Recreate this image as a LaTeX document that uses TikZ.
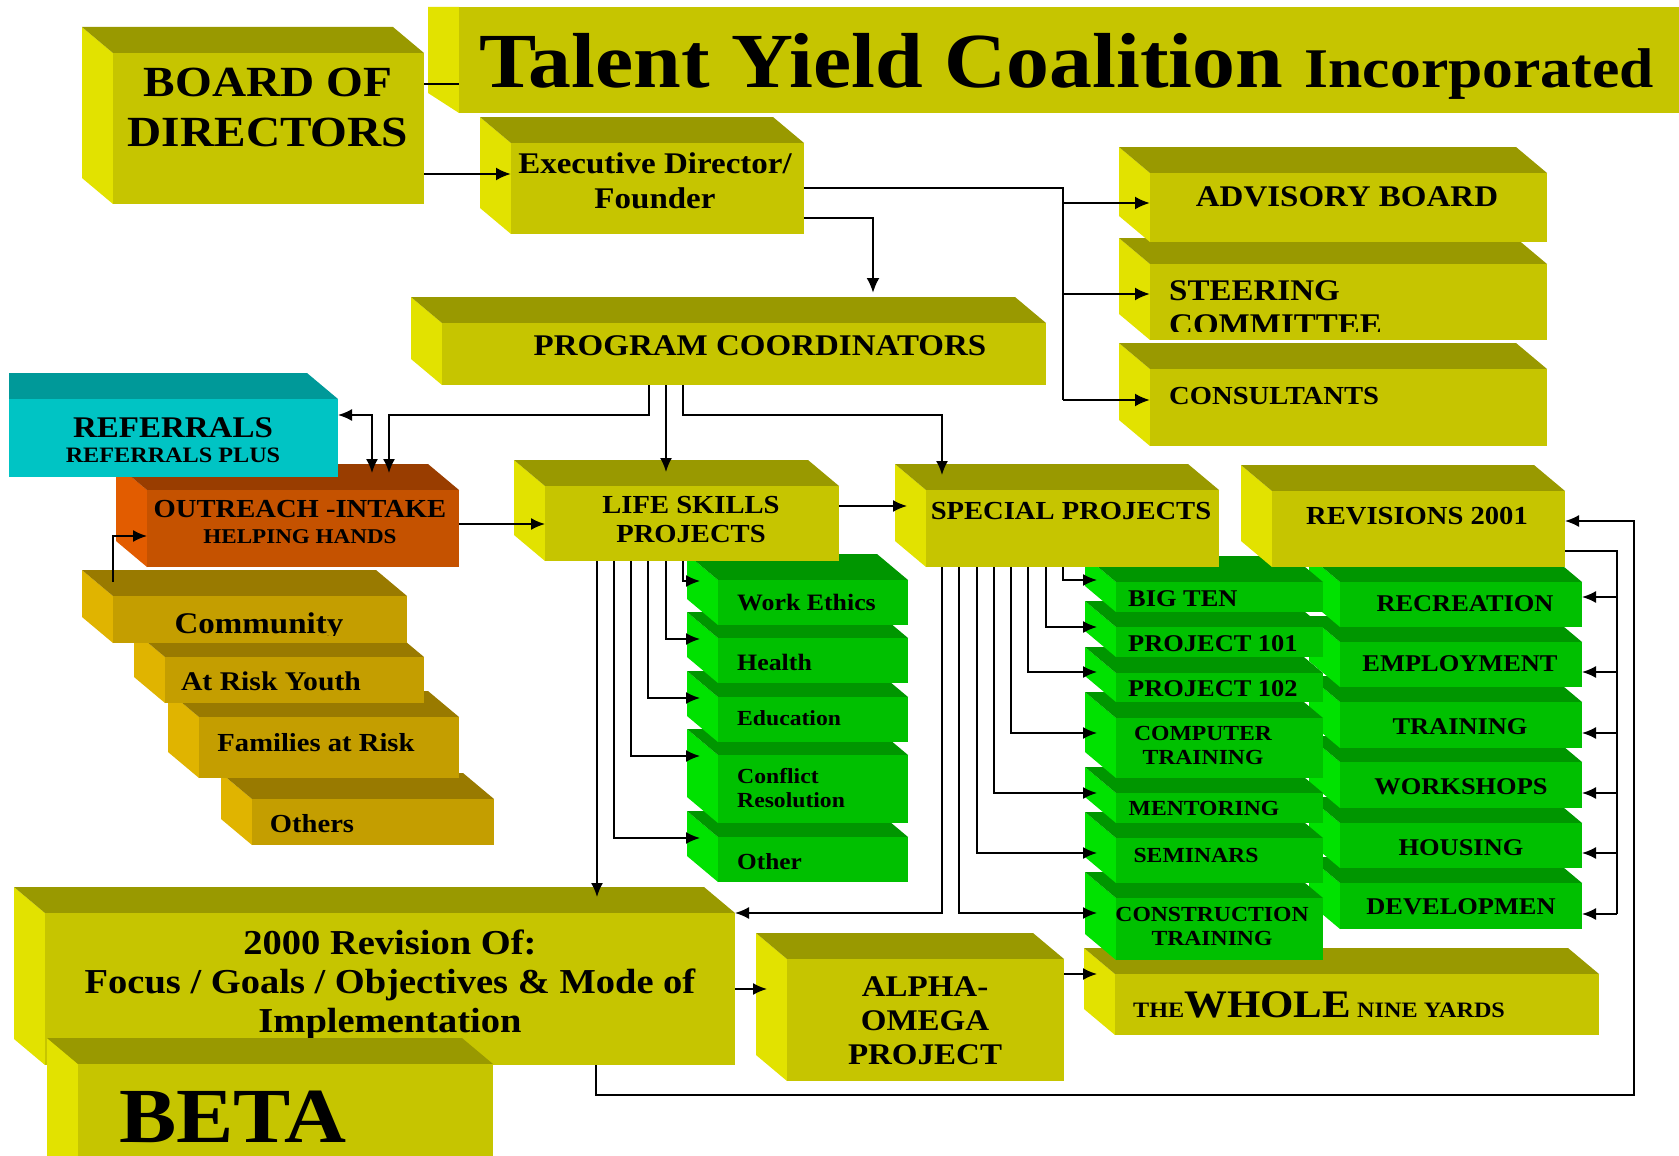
\documentclass[tikz,border=0pt]{standalone}
\usepackage{fontspec}
\setmainfont{Liberation Serif}[FakeStretch=1.1]
\usetikzlibrary{arrows.meta}

\definecolor{ylw}{RGB}{198,197,0}
\definecolor{ylwtop}{RGB}{153,153,0}
\definecolor{ylwside}{RGB}{226,226,0}
\definecolor{grn}{RGB}{0,192,0}
\definecolor{grntop}{RGB}{0,150,0}
\definecolor{grnside}{RGB}{0,226,0}
\definecolor{org}{RGB}{197,82,0}
\definecolor{orgtop}{RGB}{153,61,0}
\definecolor{orgside}{RGB}{226,92,0}
\definecolor{tea}{RGB}{0,196,196}
\definecolor{teatop}{RGB}{0,153,153}
\definecolor{och}{RGB}{196,158,0}
\definecolor{ochtop}{RGB}{153,122,0}
\definecolor{ochside}{RGB}{224,180,0}

\newcommand{\fsz}[2]{\fontsize{#1}{#2}\selectfont\bfseries}
\newcommand{\slab}[6]{%
  \fill[#2side] (#3,#4) -- (#3,#6) -- ({#3-31},{#6-26}) -- ({#3-31},{#4-26}) -- cycle;
  \fill[#2top] (#3,#4) -- (#5,#4) -- ({#5-31},{#4-26}) -- ({#3-31},{#4-26}) -- cycle;
  \node[front, fill=#2, minimum width={#5-#3}, minimum height={#6-#4}] (#1) at (#3,#4) {};
}

\tikzset{
  front/.style={anchor=north west, inner sep=0pt, outer sep=0pt},
  lbl/.style={inner sep=0pt, anchor=base, align=center},
  conn/.style={line width=1.7pt},
  arr/.style={conn, -{Latex[length=14pt,width=12pt]}},
  arrs/.style={conn, {Latex[length=14pt,width=12pt]}-{Latex[length=14pt,width=12pt]}},
  heavy/.style={line width=2.4pt, -{Latex[length=15pt,width=13pt]}}
}

\begin{document}
\begin{tikzpicture}[x=1pt, y=-1pt]
  \useasboundingbox (0,0) rectangle (1679,1156);

  \fill[ylwside] (428,7) -- (459,7) -- (459,113) -- (428,93) -- cycle;
  \node[front, fill=ylw, minimum width=1240, minimum height=106] (ttl) at (459,7) {};
  \node[lbl, anchor=base west, font=\fsz{78}{80}] (ttltxt) at (479,88) {Talent Yield Coalition {\fsz{56}{60}Incorporated}};

  \slab{bod}{ylw}{113}{53}{424}{204}
  \node[lbl, font=\fsz{43}{50}] (bodtxt) at (268,146) {BOARD OF\\DIRECTORS};
  \slab{exec}{ylw}{511}{143}{804}{234}
  \node[lbl, font=\fsz{30}{35}] (exectxt) at (655,208) {Executive Director/\\Founder};

  \slab{cons}{ylw}{1150}{369}{1547}{446}
  \node[lbl, anchor=base west, font=\fsz{26}{30}] (constxt) at (1169,404) {CONSULTANTS};
  \slab{steer}{ylw}{1150}{264}{1547}{340}
  \begin{scope}
    \clip (steer.north west) rectangle ([yshift=9pt]steer.south east);
    \node[lbl, anchor=base west, align=left, font=\fsz{30}{34}] (steertxt) at (1169,334) {STEERING\\COMMITTEE};
  \end{scope}
  \slab{adv}{ylw}{1150}{173}{1547}{242}
  \node[lbl, font=\fsz{30}{35}] (advtxt) at (1347,206) {ADVISORY BOARD};

  \slab{pc}{ylw}{442}{323}{1046}{385}
  \node[lbl, font=\fsz{30}{35}] (pctxt) at (760,355) {PROGRAM COORDINATORS};

  \slab{oth}{och}{252}{799}{494}{845}
  \node[lbl, font=\fsz{26}{30}] (othtxt) at (312,832) {Others};
  \slab{far}{och}{199}{717}{459}{778}
  \node[lbl, font=\fsz{26}{30}] (fartxt) at (316,751) {Families at Risk};
  \slab{ary}{och}{165}{657}{424}{703}
  \node[lbl, font=\fsz{27}{32}] (arytxt) at (271,690) {At Risk Youth};
  \slab{comm}{och}{113}{596}{407}{643}
  \begin{scope}
    \clip (comm.north west) rectangle ([yshift=8pt]comm.south east);
    \node[lbl, font=\fsz{30}{36}] (commtxt) at (259,633) {Community};
  \end{scope}

  \slab{out}{org}{147}{490}{459}{567}
  \node[lbl, font=\fsz{26}{26}] (outtxt) at (300,543) {OUTREACH -INTAKE\\{\fsz{21}{26}HELPING HANDS}};
  \fill[teatop] (9,373) -- (307,373) -- (338,399) -- (9,399) -- cycle;
  \node[front, fill=tea, minimum width=329, minimum height=78] (ref) at (9,399) {};
  \node[lbl, font=\fsz{30}{25}] (reftxt) at (173,462) {REFERRALS\\{\fsz{22}{25}REFERRALS PLUS}};

  \slab{othr}{grn}{718}{837}{908}{882}
  \node[lbl, anchor=base west, font=\fsz{23}{28}] (othrtxt) at (737,869) {Other};
  \slab{conf}{grn}{718}{755}{908}{823}
  \node[lbl, anchor=base west, align=left, font=\fsz{21.5}{24}] (conftxt) at (737,807) {Conflict\\Resolution};
  \slab{edu}{grn}{718}{697}{908}{742}
  \node[lbl, anchor=base west, font=\fsz{21.5}{24}] (edutxt) at (737,725) {Education};
  \slab{hlth}{grn}{718}{638}{908}{683}
  \node[lbl, anchor=base west, font=\fsz{23.5}{28}] (hlthtxt) at (737,670) {Health};
  \slab{we}{grn}{718}{580}{908}{625}
  \node[lbl, anchor=base west, font=\fsz{23.5}{28}] (wetxt) at (737,610) {Work Ethics};
  \slab{ls}{ylw}{545}{486}{839}{561}
  \node[lbl, font=\fsz{26}{29}] (lstxt) at (691,542) {LIFE SKILLS\\PROJECTS};

  \slab{dev}{grn}{1340}{883}{1582}{929}
  \node[lbl, font=\fsz{24}{28}] (devtxt) at (1461,914) {DEVELOPMEN};
  \slab{hsg}{grn}{1340}{823}{1582}{868}
  \node[lbl, font=\fsz{24}{28}] (hsgtxt) at (1461,855) {HOUSING};
  \slab{wks}{grn}{1340}{762}{1582}{808}
  \node[lbl, font=\fsz{24}{28}] (wkstxt) at (1461,794) {WORKSHOPS};
  \slab{trn}{grn}{1340}{702}{1582}{748}
  \node[lbl, font=\fsz{24}{28}] (trntxt) at (1460,734) {TRAINING};
  \slab{emp}{grn}{1340}{642}{1582}{687}
  \node[lbl, font=\fsz{24}{28}] (emptxt) at (1460,671) {EMPLOYMENT};
  \slab{rec}{grn}{1340}{582}{1582}{627}
  \node[lbl, font=\fsz{24}{28}] (rectxt) at (1465,611) {RECREATION};

  \slab{wny}{ylw}{1115}{974}{1599}{1035}
  \node[lbl, anchor=base west, font=\fsz{22}{25}] (wnytxt) at (1133,1017) {THE{\fsz{39}{40}WHOLE} NINE YARDS};

  \slab{constr}{grn}{1116}{898}{1323}{960}
  \node[lbl, font=\fsz{21.5}{24}] (constrtxt) at (1212,945) {CONSTRUCTION\\TRAINING};
  \slab{sem}{grn}{1116}{838}{1323}{883}
  \node[lbl, font=\fsz{21.5}{24}] (semtxt) at (1196,862) {SEMINARS};
  \slab{ment}{grn}{1116}{793}{1323}{823}
  \node[lbl, font=\fsz{21.5}{24}] (menttxt) at (1204,815) {MENTORING};
  \slab{comp}{grn}{1116}{718}{1323}{778}
  \node[lbl, font=\fsz{21.5}{24}] (comptxt) at (1203,764) {COMPUTER\\TRAINING};
  \slab{p102}{grn}{1116}{673}{1323}{702}
  \node[lbl, anchor=base west, font=\fsz{24}{28}] (p102txt) at (1128,696) {PROJECT 102};
  \slab{p101}{grn}{1116}{627}{1323}{657}
  \node[lbl, anchor=base west, font=\fsz{24}{28}] (p101txt) at (1128,651) {PROJECT 101};
  \slab{big}{grn}{1116}{582}{1323}{612}
  \node[lbl, anchor=base west, font=\fsz{24}{28}] (bigtxt) at (1128,606) {BIG TEN};

  \slab{rev}{ylw}{1272}{491}{1565}{567}
  \node[lbl, font=\fsz{26}{30}] (revtxt) at (1417,524) {REVISIONS 2001};
  \slab{sp}{ylw}{926}{490}{1219}{567}
  \node[lbl, font=\fsz{26}{30}] (sptxt) at (1071,519) {SPECIAL PROJECTS};

  \slab{rev2k}{ylw}{45}{913}{735}{1065}
  \node[lbl, font=\fsz{35}{39}] (rev2ktxt) at (390,1032) {2000 Revision Of:\\Focus / Goals / Objectives \& Mode of\\Implementation};
  \slab{beta}{ylw}{78}{1064}{493}{1200}
  \node[lbl, anchor=base west, font=\fsz{78}{80}] (betatxt) at (119,1142) {BETA};
  \slab{alpha}{ylw}{787}{959}{1064}{1081}
  \node[lbl, font=\fsz{30}{34}] (alphatxt) at (925,1064) {ALPHA-\\OMEGA\\PROJECT};

  \draw[heavy, -] ([yshift=-31pt]bod.north east) -- ([yshift=-31pt]bod.north east -| ttl.west);
  \draw[heavy] ([yshift=-121pt]bod.north east) -- ([yshift=-121pt]bod.north east -| exec.west);
  \draw[heavy, -] ([yshift=-45pt]exec.north east) -| ([xshift=-87pt,yshift=-31pt]cons.north west);
  \draw[heavy] ([xshift=-87pt,yshift=-30pt]adv.north west) -- ([yshift=-30pt]adv.north west);
  \draw[heavy] ([xshift=-87pt,yshift=-30pt]steer.north west) -- ([yshift=-30pt]steer.north west);
  \draw[heavy] ([xshift=-87pt,yshift=-31pt]cons.north west) -- ([yshift=-31pt]cons.north west);
  \draw[heavy] ([yshift=-75pt]exec.north east) -| ([xshift=431pt,yshift=30pt]pc.north west);

  \draw[arr] ([xshift=207pt]pc.south west) -- ++(0,30) -| ([xshift=242pt,yshift=17pt]out.north west);
  \draw[arrs] ([yshift=-16pt]ref.north east) -| ([xshift=225pt,yshift=17pt]out.north west);
  \draw[arr] ([xshift=224pt]pc.south west) -- ([xshift=121pt,yshift=14pt]ls.north west);
  \draw[arr] ([xshift=241pt]pc.south west) -- ++(0,30) -| ([xshift=16pt,yshift=15pt]sp.north west);
  \draw[arr] ([yshift=-34pt]out.north east) -- ([yshift=-38pt]ls.north west);
  \draw[arr] ([yshift=14pt]comm.north west) |- ([yshift=-46pt]out.north west);
  \draw[arr] ([yshift=-20pt]ls.north east) -- ([xshift=-19pt,yshift=-16pt]sp.north west);

  \draw[arr] ([xshift=138pt]ls.south west) |- ([xshift=-18pt,yshift=-1pt]we.north west);
  \draw[arr] ([xshift=121pt]ls.south west) |- ([xshift=-18pt,yshift=-1pt]hlth.north west);
  \draw[arr] ([xshift=103pt]ls.south west) |- ([xshift=-18pt,yshift=-1pt]edu.north west);
  \draw[arr] ([xshift=86pt]ls.south west) |- ([xshift=-18pt,yshift=-1pt]conf.north west);
  \draw[arr] ([xshift=69pt]ls.south west) |- ([xshift=-18pt,yshift=-1pt]othr.north west);
  \draw[arr] ([xshift=52pt]ls.south west) -- ([xshift=52pt,yshift=16pt]ls.south west |- rev2k.north);

  \draw[arr] ([xshift=137pt]sp.south west) |- ([xshift=-19pt,yshift=2pt]big.north west);
  \draw[arr] ([xshift=120pt]sp.south west) |- ([xshift=-19pt]p101.north west);
  \draw[arr] ([xshift=102pt]sp.south west) |- ([xshift=-19pt,yshift=1pt]p102.north west);
  \draw[arr] ([xshift=85pt]sp.south west) |- ([xshift=-19pt,yshift=-15pt]comp.north west);
  \draw[arr] ([xshift=68pt]sp.south west) |- ([xshift=-19pt]ment.north west);
  \draw[arr] ([xshift=51pt]sp.south west) |- ([xshift=-19pt,yshift=-15pt]sem.north west);
  \draw[arr] ([xshift=33pt]sp.south west) |- ([xshift=-19pt,yshift=-15pt]constr.north west);
  \draw[arr] ([xshift=16pt]sp.south west) |- (rev2k.north east);

  \draw[conn] ([yshift=-60pt]rev.north east) -| ([xshift=35pt,yshift=-31pt]dev.north east);
  \draw[arr] ([xshift=35pt,yshift=-15pt]rec.north east) -- ([yshift=-15pt]rec.north east);
  \draw[arr] ([xshift=35pt,yshift=-30pt]emp.north east) -- ([yshift=-30pt]emp.north east);
  \draw[arr] ([xshift=35pt,yshift=-31pt]trn.north east) -- ([yshift=-31pt]trn.north east);
  \draw[arr] ([xshift=35pt,yshift=-31pt]wks.north east) -- ([yshift=-31pt]wks.north east);
  \draw[arr] ([xshift=35pt,yshift=-30pt]hsg.north east) -- ([yshift=-30pt]hsg.north east);
  \draw[arr] ([xshift=35pt,yshift=-31pt]dev.north east) -- ([yshift=-31pt]dev.north east);
  \draw[arr] ([xshift=551pt]rev2k.south west) -- ++(0,30) -| ([xshift=69pt,yshift=-30pt]rev.north east) -- ([yshift=-30pt]rev.north east);

  \draw[arr] ([yshift=-76pt]rev2k.north east) -- ([xshift=-20pt,yshift=-30pt]alpha.north west);
  \draw[arr] ([yshift=-15pt]alpha.north east) -- ([xshift=-18pt]wny.north west);
\end{tikzpicture}
\end{document}
